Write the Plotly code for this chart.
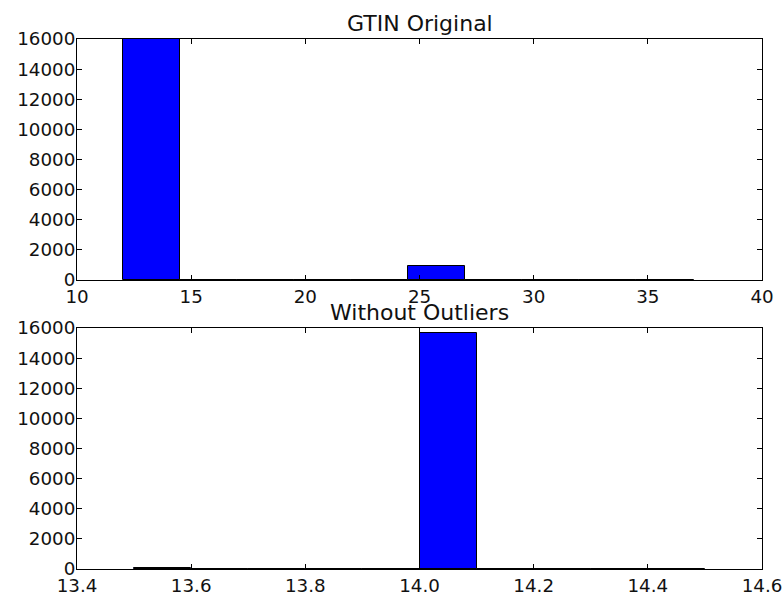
import plotly.graph_objects as go

# Data
top_edges = [12.0, 14.5, 17.0, 19.5, 22.0, 24.5, 27.0, 29.5, 32.0, 34.5, 37.0]
top_counts = [15990, 0, 0, 0, 0, 940, 30, 0, 0, 3]
bot_edges = [13.5, 13.6, 13.7, 13.8, 13.9, 14.0, 14.1, 14.2, 14.3, 14.4, 14.5]
bot_counts = [40, 0, 0, 0, 0, 15680, 0, 0, 0, 3]
titles = ["GTIN Original", "Without Outliers"]

def centers(e):
    return [(e[i] + e[i + 1]) / 2 for i in range(len(e) - 1)]

def widths(e):
    return [e[i + 1] - e[i] for i in range(len(e) - 1)]

W, H = 783, 592
ml, mt = 77, 39
mr = W - 762
mb = H - 569
plot_h = H - mt - mb
ax_h = 241
frac = ax_h / plot_h

fig = go.Figure()
fig.add_trace(go.Bar(x=centers(top_edges), y=top_counts, width=widths(top_edges),
                     marker=dict(color="#0000ff", line=dict(color="black", width=1)),
                     xaxis="x", yaxis="y", showlegend=False))
fig.add_trace(go.Bar(x=centers(bot_edges), y=bot_counts, width=widths(bot_edges),
                     marker=dict(color="#0000ff", line=dict(color="black", width=1)),
                     xaxis="x2", yaxis="y2", showlegend=False))

axis_common = dict(showline=True, linecolor="black", linewidth=1, mirror="ticks",
                   ticks="inside", ticklen=5, tickcolor="black", showgrid=False,
                   zeroline=False, automargin=False,
                   tickfont=dict(family="DejaVu Sans", size=18.3, color="#111"))

fig.update_layout(
    width=W, height=H,
    margin=dict(l=ml, r=mr, t=mt, b=mb),
    paper_bgcolor="white", plot_bgcolor="white",
    bargap=0,
    xaxis=dict(domain=[0, 1], anchor="y", range=[10, 40], dtick=5, tick0=10, **axis_common),
    yaxis=dict(domain=[1 - frac, 1], anchor="x", range=[0, 16000], dtick=2000,
               tickformat="d", ticklabelstandoff=-3, **axis_common),
    xaxis2=dict(domain=[0, 1], anchor="y2", range=[13.4, 14.6], dtick=0.2, tick0=13.4,
                tickformat=".1f", **axis_common),
    yaxis2=dict(domain=[0, frac], anchor="x2", range=[0, 16000], dtick=2000,
                tickformat="d", ticklabelstandoff=-3, **axis_common),
    annotations=[
        dict(text=titles[0], x=0.5, y=1, xref="paper", yref="paper", xanchor="center",
             yanchor="bottom", yshift=1, showarrow=False,
             font=dict(family="DejaVu Sans", size=22, color="#111")),
        dict(text=titles[1], x=0.5, y=frac, xref="paper", yref="paper", xanchor="center",
             yanchor="bottom", yshift=1, showarrow=False,
             font=dict(family="DejaVu Sans", size=22, color="#111")),
    ],
)

fig.write_html("out.html",
               config={"displayModeBar": False},
               post_script="document.body.style.margin='0';document.body.style.overflow='hidden';")
